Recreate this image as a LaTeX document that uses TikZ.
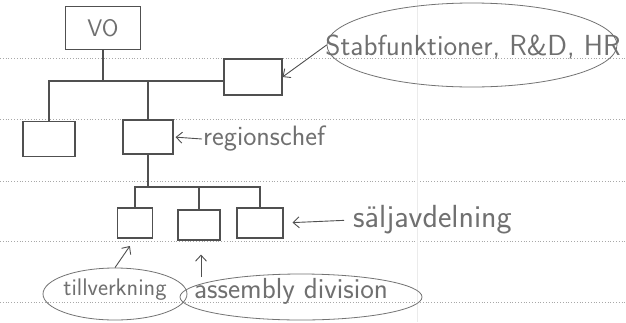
\documentclass[tikz,border=0pt]{standalone}
\usetikzlibrary{shapes.geometric,arrows.meta}
\definecolor{pencil}{HTML}{505050}
\definecolor{pentext}{HTML}{707070}
\definecolor{ruleline}{HTML}{A8A8A8}
\begin{document}
\begin{tikzpicture}[x=1pt,y=-1pt,
  box/.style={draw=pencil, line width=1.1pt, rectangle, inner sep=0pt},
  conn/.style={draw=pencil, line width=1.1pt},
  arr/.style={draw=pencil, line width=0.9pt, -{Straight Barb[length=6pt,width=11pt]}},
  lbl/.style={text=pentext, font=\sffamily, inner sep=1pt},
  oval/.style={draw=pencil!80, line width=0.8pt, ellipse, inner sep=0pt},
  ruled/.style={draw=ruleline, line width=0.8pt, dotted}]
\useasboundingbox (0,0) rectangle (626,322);
\fill[white] (0,0) rectangle (626,322);
% notebook rulings
\foreach \yy in {58,119,181,241,302} \draw[ruled] (0,\yy) -- (626,\yy);
\draw[draw=black!8, line width=0.6pt] (417,0) -- (417,322);

% boxes
\node[box, minimum width=75, minimum height=43] (vo) at (103,28) {\fontsize{24}{26}\selectfont\color{pentext}\sffamily VO};
\node[box, minimum width=58, minimum height=36] (sb) at (253,77) {};
\node[box, minimum width=52, minimum height=35] (lb) at (49,139) {};
\node[box, minimum width=50, minimum height=34] (rb) at (148,137) {};
\node[box, minimum width=35, minimum height=30] (b1) at (135,223) {};
\node[box, minimum width=42, minimum height=30] (b2) at (199,225) {};
\node[box, minimum width=46, minimum height=30] (b3) at (260,223) {};

% tree connectors
\coordinate (j1) at (101,81);
\coordinate (j2) at (148,187);
\draw[conn] (vo.south) -- (vo.south |- j1);
\draw[conn] (lb.north) |- (sb.west |- j1);
\draw[conn] (rb.north) -- (rb.north |- j1);
\draw[conn] (rb.south) -- (j2);
\draw[conn] (b1.north) |- (b3.north |- j2) -- (b3.north);
\draw[conn] (b2.north) -- (b2.north |- j2);

% labels
\node[oval, minimum width=290, minimum height=84] (se) at (472,45) {};
\node[lbl, font=\sffamily\fontsize{29}{31}\selectfont] (st) at (473,47) {Stabfunktioner, R\&D, HR};
\draw[arr] (se.west) -- (sb.east);

\node[lbl, font=\sffamily\fontsize{28}{30}\selectfont, anchor=west] (rl) at (202,139) {regionschef};
\draw[arr, shorten >=2pt] (rl.west) -- (rb.east);

\node[lbl, font=\sffamily\fontsize{32}{34}\selectfont, anchor=west] (sj) at (352,220) {säljavdelning};
\draw[arr, shorten <=8pt, shorten >=9pt] (sj.west) -- (b3.east);

\node[oval, minimum width=144, minimum height=52] (te) at (115,294) {};
\node[lbl, font=\sffamily\fontsize{24}{26}\selectfont] (tv) at (115,290) {tillverkning};
\draw[arr, shorten >=9pt] (te.north) -- (b1.south);

\node[oval, minimum width=242, minimum height=46] (ae) at (301,297) {};
\node[lbl, font=\sffamily\fontsize{29}{31}\selectfont] (ad) at (291,291) {assembly division};
\coordinate (aa) at (201,277);
\draw[arr, shorten >=14pt] (aa) -- (aa |- b2.south);
\end{tikzpicture}
\end{document}
